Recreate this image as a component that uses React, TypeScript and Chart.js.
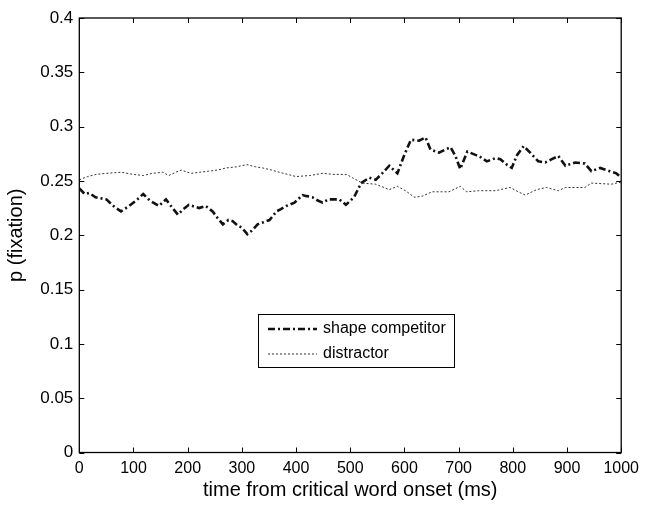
import { useEffect, useRef } from "react";
import { Chart, registerables } from "chart.js";

Chart.register(...registerables);

const shapeTimes = [0, 10, 18, 30, 50, 65, 77, 92, 105, 118, 130, 147, 160, 172, 182, 192, 202, 221, 233, 246, 255, 265, 275, 283, 292, 300, 310, 318, 329, 340, 351, 364, 372, 382, 397, 412, 420, 430, 440, 449, 460, 471, 480, 492, 507, 520, 535, 547, 559, 572, 587, 599, 612, 627, 639, 648, 664, 676, 685, 694, 703, 716, 731, 737, 752, 768, 777, 789, 798, 808, 820, 832, 847, 860, 872, 884, 897, 915, 933, 945, 961, 979, 991, 1000];
const shapeValues = [0.243, 0.238, 0.239, 0.235, 0.233, 0.226, 0.222, 0.227, 0.232, 0.238, 0.232, 0.227, 0.233, 0.225, 0.219, 0.224, 0.228, 0.225, 0.227, 0.222, 0.216, 0.21, 0.214, 0.213, 0.209, 0.207, 0.201, 0.204, 0.21, 0.212, 0.214, 0.222, 0.224, 0.227, 0.23, 0.237, 0.236, 0.235, 0.232, 0.23, 0.233, 0.233, 0.233, 0.228, 0.235, 0.248, 0.253, 0.251, 0.257, 0.264, 0.257, 0.273, 0.288, 0.287, 0.29, 0.279, 0.276, 0.279, 0.281, 0.273, 0.261, 0.277, 0.274, 0.273, 0.268, 0.271, 0.27, 0.265, 0.262, 0.274, 0.282, 0.276, 0.268, 0.267, 0.27, 0.273, 0.264, 0.267, 0.266, 0.259, 0.262, 0.259, 0.257, 0.253];

const distractorTimes = [0, 15, 31, 50, 77, 100, 118, 135, 154, 165, 178, 188, 206, 222, 239, 255, 272, 290, 309, 325, 338, 355, 369, 385, 400, 425, 449, 470, 493, 504, 522, 547, 572, 587, 602, 618, 633, 651, 670, 682, 703, 715, 737, 768, 795, 810, 823, 844, 862, 884, 897, 933, 945, 982, 1000];
const distractorValues = [0.251, 0.254, 0.256, 0.257, 0.258, 0.256, 0.255, 0.257, 0.258, 0.255, 0.258, 0.26, 0.257, 0.258, 0.259, 0.26, 0.262, 0.263, 0.265, 0.263, 0.262, 0.26, 0.258, 0.256, 0.254, 0.255, 0.257, 0.256, 0.256, 0.253, 0.248, 0.247, 0.242, 0.245, 0.241, 0.235, 0.236, 0.24, 0.24, 0.24, 0.245, 0.24, 0.241, 0.241, 0.244, 0.24, 0.237, 0.242, 0.244, 0.241, 0.244, 0.244, 0.248, 0.247, 0.249];

const seriesLabels = ["shape competitor", "distractor"];
const xTickValues = [0, 100, 200, 300, 400, 500, 600, 700, 800, 900, 1000];
const yTickValues = [0, 0.05, 0.1, 0.15, 0.2, 0.25, 0.3, 0.35, 0.4];
const xTitle = "time from critical word onset (ms)";
const yTitle = "p (fixation)";

const FONT = "'Liberation Sans', Arial, Helvetica, sans-serif";

const boxPlugin = {
  id: "boxTicks",
  afterDraw(chart: any) {
    const { ctx, chartArea } = chart;
    const { left, right, top, bottom } = chartArea;
    const xs = chart.scales.x;
    const ys = chart.scales.y;
    ctx.save();
    ctx.strokeStyle = "#000";
    ctx.lineWidth = 1.3;
    ctx.setLineDash([]);
    ctx.strokeRect(left, top, right - left, bottom - top);
    ctx.lineWidth = 1;
    const tl = 5;
    ctx.beginPath();
    for (const v of xTickValues) {
      const px = Math.round(xs.getPixelForValue(v)) + 0.5;
      ctx.moveTo(px, bottom);
      ctx.lineTo(px, bottom - tl);
      ctx.moveTo(px, top);
      ctx.lineTo(px, top + tl);
    }
    for (const v of yTickValues) {
      const py = Math.round(ys.getPixelForValue(v)) + 0.5;
      ctx.moveTo(left, py);
      ctx.lineTo(left + tl, py);
      ctx.moveTo(right, py);
      ctx.lineTo(right - tl, py);
    }
    ctx.stroke();

    // legend
    const bx = 258, by = 314, bw = 196, bh = 53;
    ctx.fillStyle = "#fff";
    ctx.fillRect(bx, by, bw, bh);
    ctx.lineWidth = 1;
    ctx.strokeStyle = "#000";
    ctx.strokeRect(bx + 0.5, by + 0.5, bw, bh);
    const rows = [329, 354];
    chart.data.datasets.forEach((ds: any, i: number) => {
      const y = rows[i];
      ctx.beginPath();
      ctx.strokeStyle = ds.borderColor;
      ctx.lineWidth = ds.borderWidth;
      ctx.setLineDash(ds.borderDash || []);
      ctx.moveTo(268, y);
      ctx.lineTo(317, y);
      ctx.stroke();
      ctx.setLineDash([]);
      ctx.fillStyle = "#000";
      ctx.font = `16px ${FONT}`;
      ctx.textBaseline = "middle";
      ctx.textAlign = "left";
      ctx.fillText(ds.label, 323, y);
    });
    ctx.restore();
  },
};

export default function App() {
  const ref = useRef<HTMLCanvasElement | null>(null);
  useEffect(() => {
    document.body.style.margin = "0";
    const canvas = ref.current;
    if (!canvas) return;
    const chart = new Chart(canvas, {
      type: "line",
      data: {
        datasets: [
          {
            label: seriesLabels[0],
            data: shapeTimes.map((t, i) => ({ x: t, y: shapeValues[i] })),
            borderColor: "#111",
            borderWidth: 2.6,
            borderDash: [7, 3, 2, 3],
            pointRadius: 0,
            tension: 0,
            fill: false,
          },
          {
            label: seriesLabels[1],
            data: distractorTimes.map((t, i) => ({ x: t, y: distractorValues[i] })),
            borderColor: "#333",
            borderWidth: 1,
            borderDash: [2, 2],
            pointRadius: 0,
            tension: 0,
            fill: false,
          },
        ],
      },
      options: {
        responsive: false,
        animation: false,
        layout: { padding: { left: 0, right: 22, top: 18, bottom: 0 } },
        plugins: { legend: { display: false }, tooltip: { enabled: false } },
        scales: {
          x: {
            type: "linear",
            min: 0,
            max: 1000,
            afterBuildTicks: (s: any) => {
              s.ticks = xTickValues.map((v) => ({ value: v }));
            },
            afterFit: (s: any) => {
              s.height = 54.5;
            },
            grid: { display: false, drawTicks: false },
            border: { display: false },
            ticks: {
              color: "#000",
              font: { family: FONT, size: 16 },
              padding: 6,
              maxRotation: 0,
              autoSkip: false,
              callback: (v: any) => String(v),
            },
            title: {
              display: true,
              text: xTitle,
              color: "#000",
              font: { family: FONT, size: 20 },
              padding: { top: 0, bottom: 5 },
            },
          },
          y: {
            type: "linear",
            min: 0,
            max: 0.4,
            afterBuildTicks: (s: any) => {
              s.ticks = yTickValues.map((v) => ({ value: v }));
            },
            afterFit: (s: any) => {
              s.width = 79.3;
            },
            grid: { display: false, drawTicks: false },
            border: { display: false },
            ticks: {
              color: "#000",
              font: { family: FONT, size: 17 },
              padding: 6,
              autoSkip: false,
              callback: (v: any) => String(Number(Number(v).toFixed(2))),
            },
            title: {
              display: true,
              text: yTitle,
              color: "#000",
              font: { family: FONT, size: 20 },
              padding: { top: 4, bottom: 0 },
            },
          },
        },
      },
      plugins: [boxPlugin],
    });
    return () => chart.destroy();
  }, []);
  return (
    <div style={{ position: "fixed", left: 0, top: 0, width: 645, height: 507, background: "#fff" }}>
      <canvas ref={ref} width={645} height={507} />
    </div>
  );
}
